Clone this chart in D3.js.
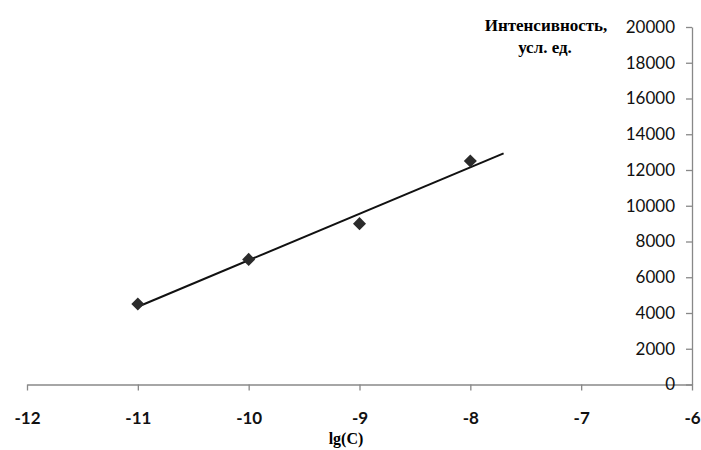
<!DOCTYPE html>
<html>
<head>
<meta charset="utf-8">
<script src="https://cdn.jsdelivr.net/npm/d3@7"></script>
<style>
  body { margin: 0; background: #fff; }
</style>
</head>
<body>
<div id="graph"></div>
<script>
const width = 701;
const height = 450;

// Data
const lgC = [-11, -10, -9, -8];
const intensity = [4500, 7000, 9000, 12500];
const xTicks = [-12, -11, -10, -9, -8, -7, -6];
const yTicks = [0, 2000, 4000, 6000, 8000, 10000, 12000, 14000, 16000, 18000, 20000];
const trendFrom = -11;
const trendTo = -7.7;

const svg = d3.select('#graph')
  .append('svg')
  .attr('width', width)
  .attr('height', height);

const xScale = d3.scaleLinear().domain([-12, -6]).range([27, 692]);
const yScale = d3.scaleLinear().domain([0, 20000]).range([384.5, 27]);

// X axis
const xAxis = d3.axisBottom(xScale).tickValues(xTicks).tickSize(6).tickSizeOuter(0).tickFormat(d3.format('d'));
const gx = svg.append('g')
  .attr('transform', `translate(0, ${yScale(0)})`)
  .call(xAxis);
gx.select('.domain').attr('stroke', '#888').attr('stroke-width', 1.3);
gx.selectAll('.tick line').attr('stroke', '#888').attr('stroke-width', 1.3);
gx.selectAll('.tick text')
  .attr('dy', 0)
  .attr('y', 39)
  .attr('font-family', 'Lato, sans-serif')
  .attr('font-weight', 'bold')
  .attr('font-size', 17)
  .attr('fill', '#111')
  .text(d => String(d).replace('−', '-'));

// Y axis on the right edge, ticks pointing left
const yAxis = d3.axisLeft(yScale).tickValues(yTicks).tickSize(6).tickSizeOuter(0).tickFormat(d3.format('d'));
const gy = svg.append('g')
  .attr('transform', `translate(${xScale(-6)}, 0)`)
  .call(yAxis);
gy.select('.domain').attr('stroke', '#888').attr('stroke-width', 1.3);
gy.selectAll('.tick line').attr('stroke', '#888').attr('stroke-width', 1.3);
gy.selectAll('.tick text')
  .attr('x', -17)
  .attr('font-family', 'Lato, sans-serif')
  .attr('font-size', 17)
  .attr('fill', '#111');

// Axis titles
svg.append('text')
  .attr('x', 346)
  .attr('y', 444)
  .attr('text-anchor', 'middle')
  .attr('font-family', '"Liberation Serif", serif')
  .attr('font-weight', 'bold')
  .attr('font-size', 16)
  .text('lg(C)');

svg.append('text')
  .attr('x', 546)
  .attr('y', 31)
  .attr('text-anchor', 'middle')
  .attr('font-family', '"Liberation Serif", serif')
  .attr('font-weight', 'bold')
  .attr('font-size', 17)
  .text('Интенсивность,');
svg.append('text')
  .attr('x', 545)
  .attr('y', 53)
  .attr('text-anchor', 'middle')
  .attr('font-family', '"Liberation Serif", serif')
  .attr('font-weight', 'bold')
  .attr('font-size', 17)
  .text('усл. ед.');

// Linear trend line (least squares)
const mx = d3.mean(lgC), my = d3.mean(intensity);
const slope = d3.sum(lgC, (x, i) => (x - mx) * (intensity[i] - my)) / d3.sum(lgC, x => (x - mx) * (x - mx));
const trend = [trendFrom, trendTo].map(x => [x, my + slope * (x - mx)]);
svg.append('path')
  .datum(trend)
  .attr('fill', 'none')
  .attr('stroke', '#111')
  .attr('stroke-width', 2)
  .attr('d', d3.line().x(d => xScale(d[0])).y(d => yScale(d[1])));

// Points
svg.selectAll('.point')
  .data(lgC.map((x, i) => [x, intensity[i]]))
  .enter()
  .append('path')
  .attr('class', 'point')
  .attr('d', d3.symbol().type(d3.symbolSquare).size(85))
  .attr('transform', d => `translate(${xScale(d[0])}, ${yScale(d[1])}) rotate(45)`)
  .attr('fill', '#2b2b2b');
</script>
</body>
</html>
